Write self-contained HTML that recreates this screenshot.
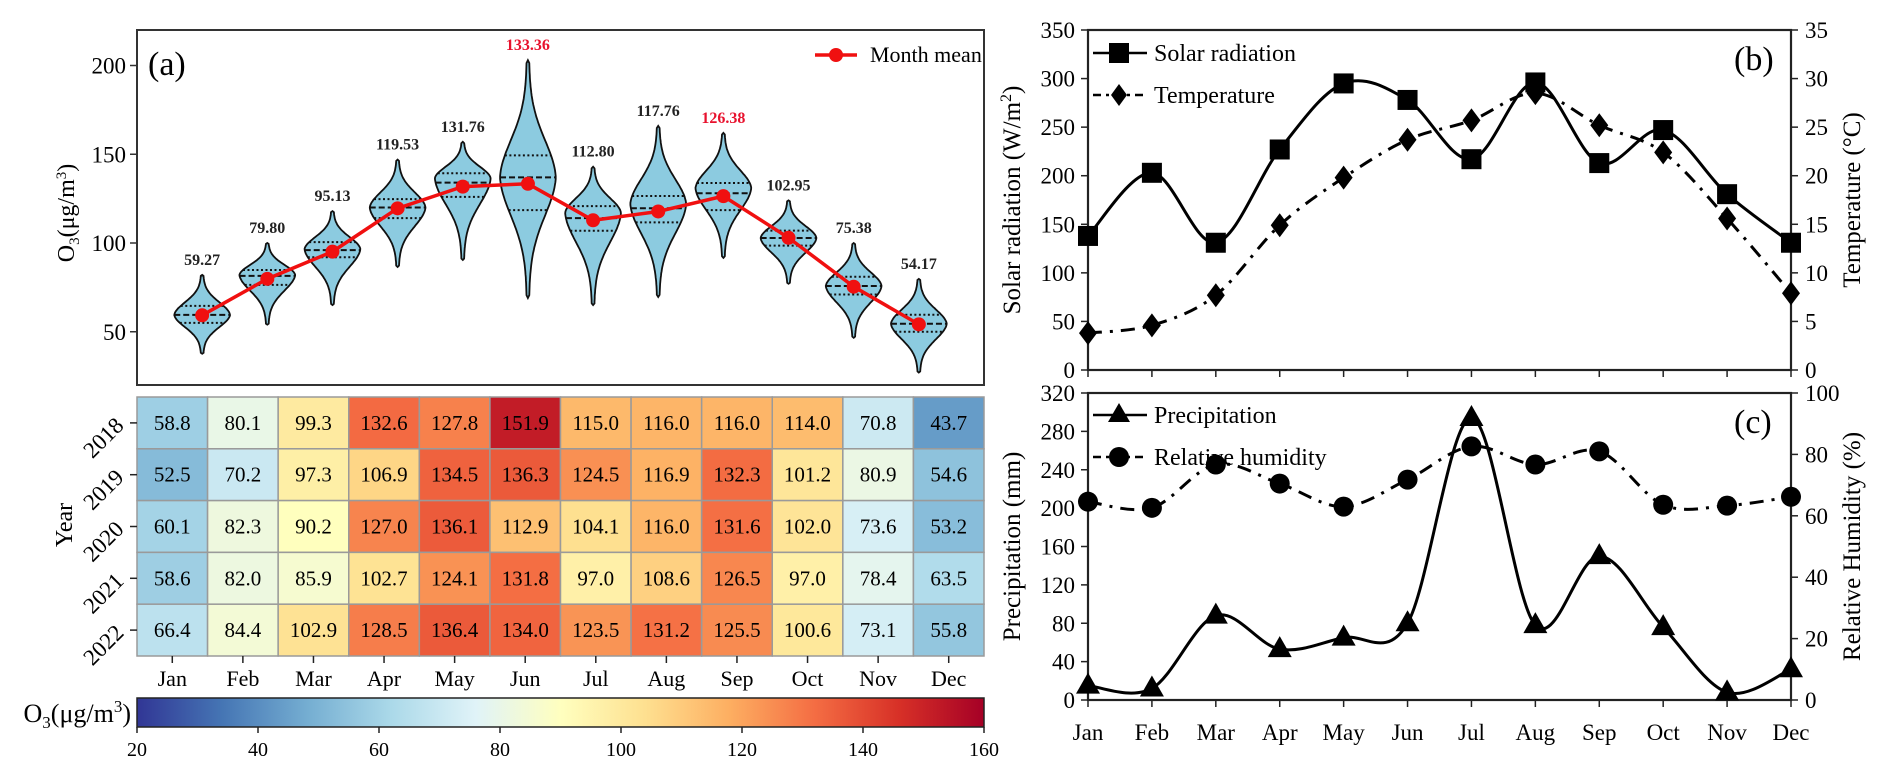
<!DOCTYPE html>
<html><head><meta charset="utf-8">
<style>
html,body{margin:0;padding:0;background:#fff;}
svg{display:block;}
svg text, svg tspan{font-family:"Liberation Serif","Times New Roman","DejaVu Serif",serif;}
</style></head>
<body>
<svg id="fig" width="1892" height="776" viewBox="0 0 1892 776" xmlns="http://www.w3.org/2000/svg" font-family="Liberation Serif, serif">
  <rect x="0" y="0" width="1892" height="776" fill="#fff"/>
  <g id="pa"></g>
  <g id="hm"></g>
  <g id="cb"></g>
  <g id="pb"></g>
  <g id="pc"></g>
</svg>
<script>
// ---------- data ----------
const months = ["Jan","Feb","Mar","Apr","May","Jun","Jul","Aug","Sep","Oct","Nov","Dec"];
const monthMean = [59.27,79.80,95.13,119.53,131.76,133.36,112.80,117.76,126.38,102.95,75.38,54.17];
const violinMin = [37.6,54,65,86.5,90.4,69,65,69.6,91.6,77,46.6,27];
const violinMax = [82,100,118,147,157,203,143,166,162,124,100,79.8];
const violinMode = [59.5,82,96.6,120,136.5,137,117,122,131,102.8,75.8,54.5];
const violinQ1 = [55,76.4,92,114,126,118.5,106.9,111.6,118.5,98.5,71,50];
const violinMed = [59.5,81.5,96,120,134,137,114,119.6,128,102.8,75.8,54.5];
const violinQ3 = [64.6,84.8,100.5,124.7,139.3,149.4,120.8,126.5,133.8,107,81,59.6];
const violinTicks = [50,100,150,200];
const years = ["2018","2019","2020","2021","2022"];
const heat2018 = [58.8,80.1,99.3,132.6,127.8,151.9,115.0,116.0,116.0,114.0,70.8,43.7];
const heat2019 = [52.5,70.2,97.3,106.9,134.5,136.3,124.5,116.9,132.3,101.2,80.9,54.6];
const heat2020 = [60.1,82.3,90.2,127.0,136.1,112.9,104.1,116.0,131.6,102.0,73.6,53.2];
const heat2021 = [58.6,82.0,85.9,102.7,124.1,131.8,97.0,108.6,126.5,97.0,78.4,63.5];
const heat2022 = [66.4,84.4,102.9,128.5,136.4,134.0,123.5,131.2,125.5,100.6,73.1,55.8];
const cbTicks = [20,40,60,80,100,120,140,160];
const solar = [138,203,131,227,295,278,217,296,213,247,181,131];
const temperature = [3.8,4.6,7.7,14.9,19.8,23.7,25.7,28.5,25.2,22.4,15.6,7.9];
const solarTicks = [0,50,100,150,200,250,300,350];
const tempTicks = [0,5,10,15,20,25,30,35];
const precip = [15,12,88,53,65,80,294,78,150,76,8,32];
const humidity = [64.6,62.6,76.7,70.5,63,71.8,82.6,76.7,81,63.6,63.3,66.2];
const precipTicks = [0,40,80,120,160,200,240,280,320];
const humTicks = [0,20,40,60,80,100];

// ---------- helpers ----------
const NS="http://www.w3.org/2000/svg";
function mk(parent,tag,attrs,txt){const e=document.createElementNS(NS,tag);for(const k in attrs)e.setAttribute(k,attrs[k]);if(tag==="text")e.setAttribute("font-family","Liberation Serif, serif");if(txt!==undefined)e.textContent=txt;parent.appendChild(e);return e;}
function smooth(pts){
  let d="M"+pts[0][0]+","+pts[0][1];
  for(let i=0;i<pts.length-1;i++){
    const p0=pts[Math.max(0,i-1)],p1=pts[i],p2=pts[i+1],p3=pts[Math.min(pts.length-1,i+2)];
    const c1=[p1[0]+(p2[0]-p0[0])/6,p1[1]+(p2[1]-p0[1])/6];
    const c2=[p2[0]-(p3[0]-p1[0])/6,p2[1]-(p3[1]-p1[1])/6];
    d+=" C"+c1[0]+","+c1[1]+" "+c2[0]+","+c2[1]+" "+p2[0]+","+p2[1];
  }
  return d;
}
const stops=["#313695","#4575b4","#74add1","#abd9e9","#e0f3f8","#ffffbf","#fee090","#fdae61","#f46d43","#d73027","#a50026"];
function hex(h){return [parseInt(h.substr(1,2),16),parseInt(h.substr(3,2),16),parseInt(h.substr(5,2),16)];}
function cmap(v){let t=(v-20)/140;t=Math.max(0,Math.min(1,t));const f=t*10;const i=Math.min(9,Math.floor(f));const r=f-i;const a=hex(stops[i]),b=hex(stops[i+1]);return "rgb("+a.map((x,k)=>Math.round(x+(b[k]-x)*r)).join(",")+")";}

// ---------- panel a violin ----------
const pa=document.getElementById("pa");
const AL=137,AR=984,AT=30,AB=385;
const ax=i=>AL+(i+1)*(AR-AL)/13;
const ay=v=>AB-(v-20)*(AB-AT)/200;
violinTicks.forEach(t=>{
  const tk=mk(pa,"line",{x1:AL-7,x2:AL,y1:ay(t),y2:ay(t),stroke:"#333","stroke-width":1.5});
  
  
  const tl=mk(pa,"text",{x:AL-11,y:ay(t)+8,"text-anchor":"end","font-size":23},t);
  
  
});
function vw(i,v){const m=violinMode[i];let t;if(v>=m)t=(v-m)/(violinMax[i]-m);else t=(m-v)/(m-violinMin[i]);t=Math.min(1,Math.max(0,t));return 26.7*Math.exp(-4.2*t*t)*Math.pow(1-t,0.25)+ (t<1?1.2:0);}
months.forEach((m,i)=>{
  const cx=ax(i);const N=80;let right=[],left=[];
  for(let k=0;k<=N;k++){const v=violinMin[i]+(violinMax[i]-violinMin[i])*k/N;const w=(k==0||k==N)?0:vw(i,v);right.push([cx+w,ay(v)]);left.push([cx-w,ay(v)]);}
  const pts=right.concat(left.reverse());
  const vp=mk(pa,"path",{d:"M"+pts.map(p=>p[0].toFixed(1)+","+p[1].toFixed(1)).join("L")+"Z",fill:"#8ccbe0",stroke:"#111","stroke-width":1.8});
  
  
  [[violinQ1[i],"2,2.5"],[violinMed[i],"6,3"],[violinQ3[i],"2,2.5"]].forEach(q=>{
    const w=vw(i,q[0]);
    const ql=mk(pa,"line",{x1:cx-w,x2:cx+w,y1:ay(q[0]),y2:ay(q[0]),stroke:"#111","stroke-width":2,"stroke-dasharray":q[1]});
    
    
  });
  const red=(i==5||i==8);
  const lbl=mk(pa,"text",{x:cx,y:ay(violinMax[i])-10,"text-anchor":"middle","font-size":16,"font-weight":"bold",fill:red?"#e8112d":"#222"},monthMean[i].toFixed(2));
  
  
});
const ml=mk(pa,"polyline",{points:monthMean.map((v,i)=>ax(i)+","+ay(v)).join(" "),fill:"none",stroke:"#f01010","stroke-width":3.5});


monthMean.forEach((v,i)=>{
  const c=mk(pa,"circle",{cx:ax(i),cy:ay(v),r:7,fill:"#f01010"});
  
  
});
const frameA=mk(pa,"rect",{x:AL,y:AT,width:AR-AL,height:AB-AT,fill:"none",stroke:"#333","stroke-width":2});


const la=mk(pa,"text",{x:148,y:75,"font-size":34},"(a)");


const lgl=mk(pa,"line",{x1:815,x2:857,y1:55,y2:55,stroke:"#f01010","stroke-width":3.5});


const lgc=mk(pa,"circle",{cx:836,cy:55,r:7,fill:"#f01010"});


const lgt=mk(pa,"text",{x:870,y:62,"font-size":22},"Month mean");


const yta=mk(pa,"text",{transform:"translate(74,213) rotate(-90)","text-anchor":"middle","font-size":24});


yta.innerHTML='O<tspan font-size="15" dy="5">3</tspan><tspan dy="-5">(μg/m</tspan><tspan font-size="15" dy="-8">3</tspan><tspan dy="8">)</tspan>';

// ---------- heatmap ----------
const hm=document.getElementById("hm");
const HT=397,HB=656,cw=(AR-AL)/12,rh=(HB-HT)/5;
const heatRows=[heat2018,heat2019,heat2020,heat2021,heat2022];
heatRows.forEach((row,r)=>{
  row.forEach((v,c)=>{
    const x=AL+c*cw,y=HT+r*rh;
    const cell=mk(hm,"rect",{x:x,y:y,width:cw,height:rh,fill:cmap(v),stroke:"#9a9a9a","stroke-width":1.5});
    
    
    const t=mk(hm,"text",{x:x+cw/2,y:y+rh/2+7,"text-anchor":"middle","font-size":21},v.toFixed(1));
    
    
  });
  const yc=HT+r*rh+rh/2;
  const tk=mk(hm,"line",{x1:AL-7,x2:AL,y1:yc,y2:yc,stroke:"#222","stroke-width":1.5});
  
  
  const yl=mk(hm,"text",{transform:"translate(125,"+(yc+4)+") rotate(-45)","text-anchor":"end","font-size":23},years[r]);
  
  
});
months.forEach((m,c)=>{
  const xc=AL+c*cw+cw/2;
  const tk=mk(hm,"line",{x1:xc,x2:xc,y1:HB,y2:HB+7,stroke:"#222","stroke-width":1.5});
  
  
  const ml2=mk(hm,"text",{x:xc,y:686,"text-anchor":"middle","font-size":22},m);
  
  
});
const yr=mk(hm,"text",{transform:"translate(72,525) rotate(-90)","text-anchor":"middle","font-size":24},"Year");



// ---------- colorbar ----------
const cb=document.getElementById("cb");
const defs=mk(cb,"defs",{});
const lg=mk(defs,"linearGradient",{id:"cg",x1:0,x2:1,y1:0,y2:0});
stops.forEach((s,i)=>mk(lg,"stop",{offset:(i/10),"stop-color":s}));
const CT=698,CB=727;
const cbr=mk(cb,"rect",{x:AL,y:CT,width:AR-AL,height:CB-CT,fill:"url(#cg)",stroke:"#222","stroke-width":1.5});


const cx_=v=>AL+(v-20)/140*(AR-AL);
cbTicks.forEach(t=>{
  const tk=mk(cb,"line",{x1:cx_(t),x2:cx_(t),y1:CB,y2:CB+6,stroke:"#222","stroke-width":1.5});
  
  
  const tl=mk(cb,"text",{x:cx_(t),y:756,"text-anchor":"middle","font-size":20},t);
  
  
});
const cbt=mk(cb,"text",{x:131,y:722,"text-anchor":"end","font-size":26});


cbt.innerHTML='O<tspan font-size="17" dy="6">3</tspan><tspan dy="-6">(μg/m</tspan><tspan font-size="17" dy="-10">3</tspan><tspan dy="10">)</tspan>';

// ---------- panel b & c ----------
const BL=1088,BR=1791;
const bx=i=>BL+i*(BR-BL)/11;
function panel(g,top,bot,lTicks,lMax,rTicks,rMax,label,lTitle,rTitle,noXlabels){
  const ly=v=>bot-v/lMax*(bot-top), ry=v=>bot-v/rMax*(bot-top);
  const fr=mk(g,"rect",{x:BL,y:top,width:BR-BL,height:bot-top,fill:"none",stroke:"#222","stroke-width":2.2});
  
  
  lTicks.forEach(t=>{
    const tk=mk(g,"line",{x1:BL-7,x2:BL,y1:ly(t),y2:ly(t),stroke:"#222","stroke-width":1.5});
    
    
    const tl=mk(g,"text",{x:BL-13,y:ly(t)+8,"text-anchor":"end","font-size":23},t);
    
    
  });
  rTicks.forEach(t=>{
    const tk=mk(g,"line",{x1:BR,x2:BR+7,y1:ry(t),y2:ry(t),stroke:"#222","stroke-width":1.5});
    
    
    const tl=mk(g,"text",{x:BR+14,y:ry(t)+8,"font-size":23},t);
    
    
  });
  months.forEach((m,i)=>{
    const tk=mk(g,"line",{x1:bx(i),x2:bx(i),y1:bot,y2:bot+7,stroke:"#222","stroke-width":1.5});
    
    
    if(!noXlabels){
      const tl=mk(g,"text",{x:bx(i),y:740,"text-anchor":"middle","font-size":23},m);
      
      
    }
  });
  const pl=mk(g,"text",{x:1734,y:top+40,"font-size":34},label);
  
  
  const lt=mk(g,"text",{transform:"translate(1020,"+((top+bot)/2)+") rotate(-90)","text-anchor":"middle","font-size":25});
  
  
  lt.innerHTML=lTitle;
  const rt=mk(g,"text",{transform:"translate(1860,"+((top+bot)/2)+") rotate(-90)","text-anchor":"middle","font-size":25});
  
  
  rt.innerHTML=rTitle;
  return [ly,ry];
}
const pb=document.getElementById("pb");
const [sy,ty]=panel(pb,30,370,solarTicks,350,tempTicks,35,"(b)",'Solar radiation (W/m<tspan font-size="16" dy="-9">2</tspan><tspan dy="9">)</tspan>',"Temperature (°C)",true);
const sl=mk(pb,"path",{d:smooth(solar.map((v,i)=>[bx(i),sy(v)])),fill:"none",stroke:"#000","stroke-width":3});


const tl_=mk(pb,"path",{d:smooth(temperature.map((v,i)=>[bx(i),ty(v)])),fill:"none",stroke:"#000","stroke-width":3,"stroke-dasharray":"14,8,3,8"});


solar.forEach((v,i)=>{
  const s=mk(pb,"rect",{x:bx(i)-10,y:sy(v)-10,width:20,height:20,fill:"#000"});
  
  
});
temperature.forEach((v,i)=>{
  const x=bx(i),y=ty(v);
  const d=mk(pb,"polygon",{points:[x,y-12,x+9,y,x,y+12,x-9,y].join(","),fill:"#000"});
  
  
});
const l1=mk(pb,"line",{x1:1093,x2:1147,y1:53,y2:53,stroke:"#000","stroke-width":2.5});


const l1m=mk(pb,"rect",{x:1109,y:43,width:20,height:20,fill:"#000"});


const l1t=mk(pb,"text",{x:1154,y:61,"font-size":24},"Solar radiation");


const l2=mk(pb,"line",{x1:1093,x2:1147,y1:95,y2:95,stroke:"#000","stroke-width":2.5,"stroke-dasharray":"8,5,3,5"});


const l2m=mk(pb,"polygon",{points:"1119,84 1127,95 1119,106 1111,95",fill:"#000"});


const l2t=mk(pb,"text",{x:1154,y:103,"font-size":24},"Temperature");



const pc=document.getElementById("pc");
const [py,hy]=panel(pc,393,700,precipTicks,320,humTicks,100,"(c)","Precipitation (mm)","Relative Humidity (%)",false);
const hl=mk(pc,"path",{d:smooth(humidity.map((v,i)=>[bx(i),hy(v)])),fill:"none",stroke:"#000","stroke-width":3,"stroke-dasharray":"14,8,3,8"});


const pl2=mk(pc,"path",{d:smooth(precip.map((v,i)=>[bx(i),py(v)])),fill:"none",stroke:"#000","stroke-width":3});


precip.forEach((v,i)=>{
  const x=bx(i),y=py(v);
  const t=mk(pc,"polygon",{points:[x,y-13,x+12,y+8,x-12,y+8].join(","),fill:"#000"});
  
  
});
humidity.forEach((v,i)=>{
  const c=mk(pc,"circle",{cx:bx(i),cy:hy(v),r:10,fill:"#000"});
  
  
});
const l3=mk(pc,"line",{x1:1093,x2:1147,y1:415,y2:415,stroke:"#000","stroke-width":2.5});


const l3m=mk(pc,"polygon",{points:"1119,403 1130,422 1108,422",fill:"#000"});


const l3t=mk(pc,"text",{x:1154,y:423,"font-size":24},"Precipitation");


const l4=mk(pc,"line",{x1:1093,x2:1147,y1:457,y2:457,stroke:"#000","stroke-width":2.5,"stroke-dasharray":"8,5,3,5"});


const l4m=mk(pc,"circle",{cx:1119,cy:457,r:10,fill:"#000"});


const l4t=mk(pc,"text",{x:1154,y:465,"font-size":24},"Relative humidity");


</script>
</body></html>
